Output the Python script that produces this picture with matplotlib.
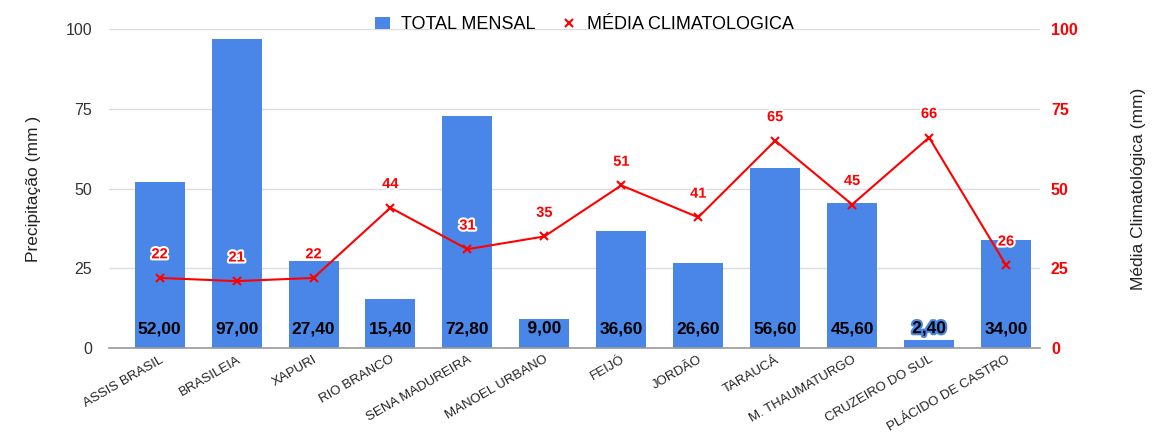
import matplotlib.pyplot as plt
import matplotlib.patheffects as pe
from matplotlib.lines import Line2D
import numpy as np

plt.rcParams['font.family'] = ['Liberation Sans', 'DejaVu Sans']

estacoes = ['ASSIS BRASIL', 'BRASILEIA', 'XAPURI', 'RIO BRANCO', 'SENA MADUREIRA',
            'MANOEL URBANO', 'FEIJÓ', 'JORDÃO', 'TARAUCÁ', 'M. THAUMATURGO',
            'CRUZEIRO DO SUL', 'PLÁCIDO DE CASTRO']
total_mensal = [52.0, 97.0, 27.4, 15.4, 72.8, 9.0, 36.6, 26.6, 56.6, 45.6, 2.4, 34.0]
media_clima = [22, 21, 22, 44, 31, 35, 51, 41, 65, 45, 66, 26]
yticks = [0, 25, 50, 75, 100]

azul = '#4a86e8'
vermelho = '#ff0000'

fig = plt.figure(figsize=(11.58, 4.33), dpi=100)
ax = fig.add_axes([0.094, 0.196, 0.804, 0.737])
ax2 = ax.twinx()

x = np.arange(len(estacoes))
barras = ax.bar(x, total_mensal, width=0.65, color=azul, label='TOTAL MENSAL', zorder=2)
ax2.plot(x, media_clima, color=vermelho, lw=1.5, marker='x', ms=6, mew=1.5, zorder=3)

ax.set_xlim(-0.66, len(estacoes) - 0.56)
ax.set_ylim(0, 100)
ax2.set_ylim(0, 100)
ax.set_yticks(yticks)
ax2.set_yticks(yticks)

# rótulos das barras (na base)
for xi, v in zip(x, total_mensal):
    t = ax.annotate(f'{v:.2f}'.replace('.', ','), (xi, 0), xytext=(0, 14),
                    textcoords='offset points', ha='center', va='center',
                    fontsize=12.5, fontweight='bold', color='black', zorder=4)
    if v < 10:
        t.set_path_effects([pe.withStroke(linewidth=3, foreground=azul)])

# rótulos da linha
for xi, v in zip(x, media_clima):
    t = ax2.annotate(str(v), (xi, v), xytext=(0, 17), textcoords='offset points',
                     ha='center', va='center', fontsize=10.5, fontweight='bold',
                     color=vermelho, zorder=5)
    t.set_path_effects([pe.withStroke(linewidth=3, foreground='white')])

ax.grid(axis='y', color='#dddddd', lw=1, zorder=0)
ax.set_axisbelow(True)
for s in ['top', 'left', 'right']:
    ax.spines[s].set_visible(False)
    ax2.spines[s].set_visible(False)
ax2.spines['bottom'].set_visible(False)
ax.spines['bottom'].set_color('#999999')
ax.spines['bottom'].set_linewidth(1.2)

ax.tick_params(axis='y', length=0, labelsize=11.5, colors='#333333', pad=12)
ax2.tick_params(axis='y', length=0, labelsize=11.5, labelcolor=vermelho, pad=8)
for lab in ax2.get_yticklabels():
    lab.set_fontweight('bold')
ax.tick_params(axis='x', length=0, pad=4)
ax.set_xticks(x)
ax.set_xticklabels(estacoes, rotation=30, ha='right', rotation_mode='anchor',
                   fontsize=9.5, color='#222222')

ax.set_ylabel('Precipitação (mm )', fontsize=12.5, labelpad=18, color='#222222')
ax2.set_ylabel('Média Climatológica (mm)', fontsize=12.5, labelpad=38, color='#222222')

marca = Line2D([], [], color=vermelho, marker='x', ls='none', ms=6, mew=1.5)
fig.legend(handles=[barras, marca], labels=['TOTAL MENSAL', 'MÉDIA CLIMATOLOGICA'],
           loc='upper center', bbox_to_anchor=(0.505, 1.0),
           ncol=2, frameon=False, fontsize=13, handlelength=0.8, columnspacing=1.5,
           handletextpad=0.6)

fig.savefig('out.png', dpi=100)
